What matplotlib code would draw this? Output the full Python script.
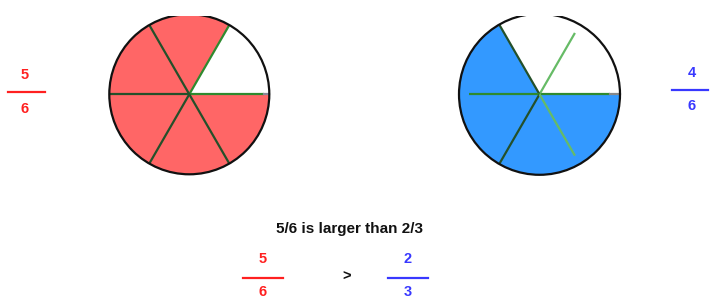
import math
import matplotlib
matplotlib.use("Agg")
import matplotlib.pyplot as plt
from matplotlib.patches import Wedge, Circle, Rectangle

# ---- data ----
left_fraction = (5, 6)
right_fraction = (4, 6)
compare_left = (5, 6)
compare_right = (2, 3)
compare_sign = ">"
sentence = "5/6 is larger than 2/3"

RED_FILL = "#FF6666"
BLUE_FILL = "#3399FF"
RED_TXT = "#FF2020"
BLUE_TXT = "#3838FF"
DARK = "#24502a"
GREEN = "#2f8a2f"
LIGHT = "#66bb66"

W, H = 710, 296
fig = plt.figure(figsize=(W / 100, H / 100), dpi=100)
ax = fig.add_axes([0, 0, 1, 1])
ax.set_xlim(0, W)
ax.set_ylim(H, 0)
ax.set_aspect("equal")
ax.axis("off")

FONT = "Liberation Sans"


def pie(cx, cy, r, num, den, fill, line_specs):
    step = 360 / den
    # y axis is inverted, so visual angle a -> data angle -a
    start_vis = step * (den - num)
    ax.add_patch(Wedge((cx, cy), r, -360, -start_vis, facecolor=fill,
                       edgecolor="none", zorder=1))
    ax.add_patch(Wedge((cx, cy), r, -start_vis, 0, facecolor="white",
                       edgecolor="none", zorder=1))
    for ang, frac, col in line_specs:
        a = math.radians(ang)
        ax.plot([cx, cx + r * frac * math.cos(a)], [cy, cy - r * frac * math.sin(a)],
                color=col, lw=1.6, zorder=3, solid_capstyle="butt")
    ax.add_patch(Circle((cx, cy), r, facecolor="none", edgecolor="#111111",
                        lw=1.6, zorder=4))


pie(189.3, 94.3, 80, left_fraction[0], left_fraction[1], RED_FILL,
    [(0, 0.93, GREEN), (60, 1.0, GREEN), (120, 1.0, DARK), (180, 1.0, DARK),
     (240, 1.0, DARK), (300, 1.0, DARK)])
ax.plot([189.3 + 80 * 0.93, 189.3 + 80], [94.3, 94.3], color="#888899", lw=1.6, zorder=3)

pie(539.5, 94.3, 80.5, right_fraction[0], right_fraction[1], BLUE_FILL,
    [(0, 0.88, GREEN), (60, 0.88, LIGHT), (120, 1.0, DARK), (180, 0.87, GREEN),
     (240, 1.0, DARK), (300, 0.88, LIGHT)])
ax.plot([539.5 + 80.5 * 0.88, 539.5 + 80.5], [94.3, 94.3], color="#888888", lw=1.6, zorder=3)

# clip top of circles
ax.add_patch(Rectangle((0, -5), W, 21, facecolor="white", edgecolor="none", zorder=10))


def fraction(x, y_num, y_line, y_den, x0, x1, num, den, color, size=10.5):
    ax.text(x, y_num, str(num), color=color, fontsize=size, fontweight="bold",
            family=FONT, ha="center", va="center", zorder=11)
    ax.plot([x0, x1], [y_line, y_line], color=color, lw=1.6, zorder=11)
    ax.text(x, y_den, str(den), color=color, fontsize=size, fontweight="bold",
            family=FONT, ha="center", va="center", zorder=11)


fraction(25, 74.7, 91.5, 109, 8, 45, left_fraction[0], left_fraction[1], RED_TXT)
fraction(692, 73.3, 89.5, 106, 672, 708, right_fraction[0], right_fraction[1], BLUE_TXT)

ax.text(350, 229, sentence, color="#111111", fontsize=11, fontweight="bold",
        family=FONT, ha="center", va="center", zorder=11)
fraction(263, 259, 278, 292.5, 243, 283, compare_left[0], compare_left[1], RED_TXT)
ax.text(347, 276.7, compare_sign, color="#111111", fontsize=10.5, fontweight="bold",
        family=FONT, ha="center", va="center", zorder=11)
fraction(408, 259, 278, 292.5, 388, 428, compare_right[0], compare_right[1], BLUE_TXT)

fig.savefig("out.png", dpi=100)
